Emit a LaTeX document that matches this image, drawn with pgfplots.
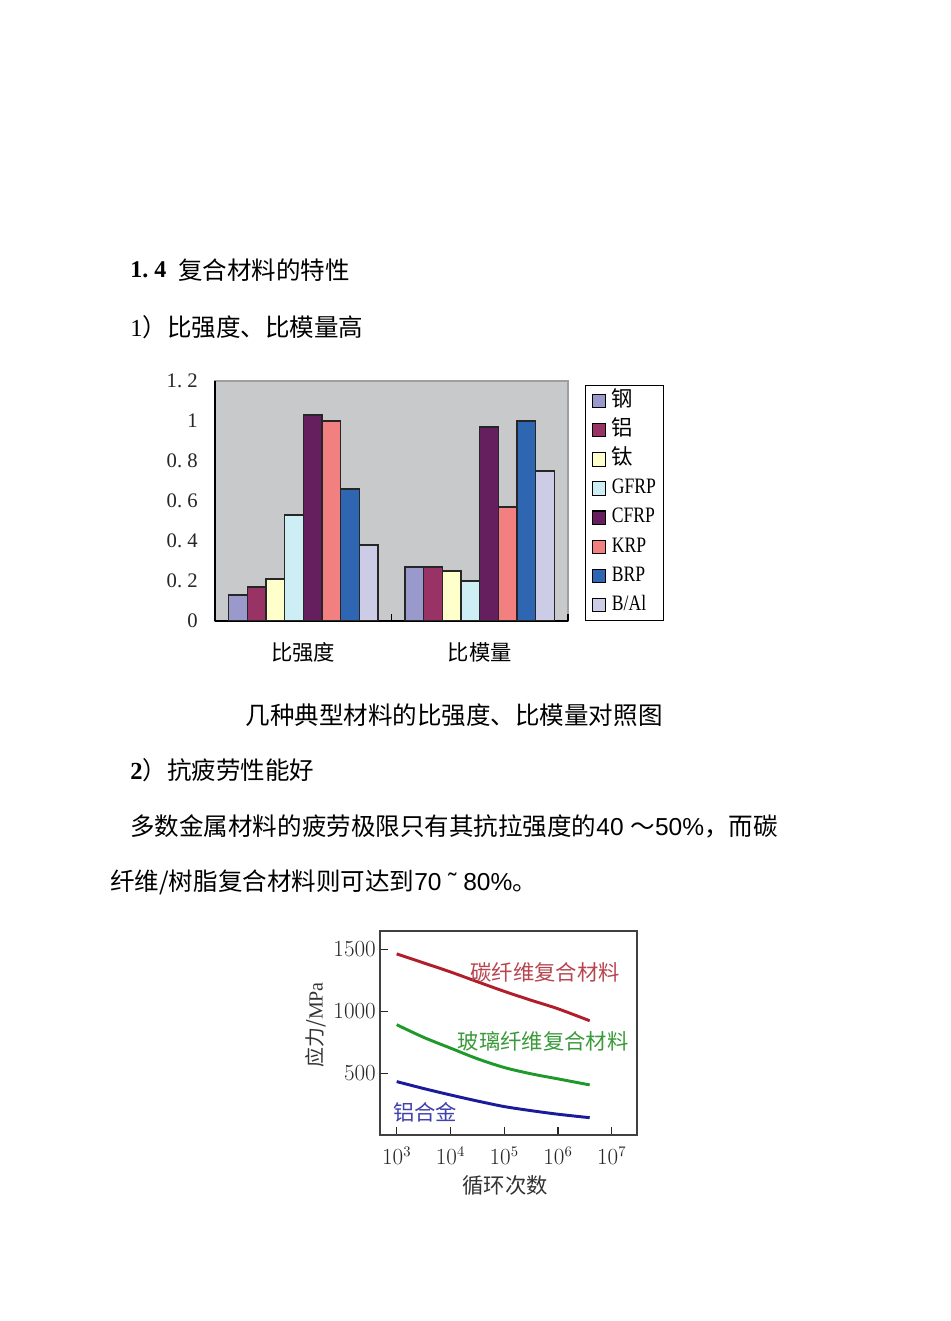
\documentclass[border=0pt]{standalone}
\usepackage{fontspec}
\setmainfont{Liberation Serif}
\newfontfamily\cjk{Noto Sans CJK SC}
\newfontfamily\latsans{Liberation Sans}
\usepackage{graphicx}
\usepackage{pgfplots}
\pgfplotsset{compat=1.18}
\definecolor{bgg}{HTML}{C8C9CB}
\definecolor{cA}{HTML}{9999CC}
\definecolor{cB}{HTML}{993366}
\definecolor{cC}{HTML}{FFFFCC}
\definecolor{cD}{HTML}{CCEEF4}
\definecolor{cE}{HTML}{661F5E}
\definecolor{cF}{HTML}{F28080}
\definecolor{cG}{HTML}{2E66B2}
\definecolor{cH}{HTML}{CCCCE6}
\definecolor{lred}{HTML}{B01E2A}
\definecolor{lgreen}{HTML}{1F9A2A}
\definecolor{lblue}{HTML}{1A1A9A}
\definecolor{tred}{HTML}{B8454F}
\definecolor{tgreen}{HTML}{3A9A3A}
\definecolor{tblue}{HTML}{4040B0}
\newcommand\bodyf{\cjk\fontsize{18.4}{22}\selectfont}
\newcommand\cond[1]{\scalebox{0.8}[1]{\fontsize{16.5}{16.5}\selectfont #1}}
\newcommand\lc[1]{{\cjk\fontsize{16}{16}\selectfont #1}}
\begin{document}
\begin{tikzpicture}[x=0.75pt,y=0.75pt]
\fill[white] (0,0) rectangle (950,1321);
% body text
\node[anchor=west,inner sep=0] at (130,1051) {\fontsize{18}{22}\selectfont\bfseries 1.\ 4};
\node[anchor=west,inner sep=0] at (178,1051) {\bodyf 复合材料的特性};
\node[anchor=west,inner sep=0] at (130,994) {\bodyf {\rmfamily 1}）比强度、比模量高};
\node[anchor=center,inner sep=0] at (454,606) {\bodyf 几种典型材料的比强度、比模量对照图};
\node[anchor=west,inner sep=0] at (130,551) {\bodyf {\rmfamily\bfseries 2}）抗疲劳性能好};
\node[anchor=west,inner sep=0] at (130,495) {\bodyf 多数金属材料的疲劳极限只有其抗拉强度的{\latsans 40 }～{\latsans 50\%}，而碳};
\node[anchor=west,inner sep=0] at (110,439) {\bodyf 纤维/树脂复合材料则可达到{\latsans 70 ˜ 80\%}。};

% bar chart
\begin{axis}[at={(161.25pt,525pt)}, anchor=south west, scale only axis,
  width=264.75pt, height=180pt,
  ybar=0pt, bar width=14pt,
  xmin=-0.5, xmax=1.5, ymin=0, ymax=1.2,
  axis x line*=bottom, axis y line*=left,
  axis line style={line width=1.2pt, black},
  axis background/.style={fill=bgg, draw=gray!75, line width=0.8pt},
  tick align=inside,
  xtick={0.5,1.5}, xticklabels={},
  xtick style={draw=black, line width=1.2pt}, major tick length=5pt,
  extra x ticks={0,1}, extra x tick labels={比强度,比模量},
  extra x tick style={major tick length=0pt, xticklabel style={font=\cjk\fontsize{16}{16}\selectfont, anchor=center, yshift=-23.25pt}},
  ytick={0,0.2,0.4,0.6,0.8,1,1.2},
  yticklabels={0,0.\ 2,0.\ 4,0.\ 6,0.\ 8,1,1.\ 2},
  ytick style={draw=none},
  yticklabel style={font=\fontsize{15.5}{15.5}\selectfont, anchor=east, inner sep=0pt, xshift=-12.75pt, text=black!85},
  legend image code/.code={\draw[#1,draw=black,line width=0.8pt] (0pt,-5pt) rectangle (10pt,5pt);},
  legend cell align=left,
  legend style={at={(1,1)}, anchor=north west, xshift=12.75pt, yshift=-3pt,
    draw=black, line width=0.8pt, fill=white, inner xsep=4.5pt, inner ysep=3.2pt,
    row sep=4.85pt, nodes={inner sep=1.5pt, text height=11pt, text depth=3pt},
    /tikz/every odd column/.append style={column sep=3pt}},
]
\addplot[fill=cA, draw=black!85, line width=0.9pt] coordinates {(0,0.13) (1,0.27)};
\addplot[fill=cB, draw=black!85, line width=0.9pt] coordinates {(0,0.17) (1,0.27)};
\addplot[fill=cC, draw=black!85, line width=0.9pt] coordinates {(0,0.21) (1,0.25)};
\addplot[fill=cD, draw=black!85, line width=0.9pt] coordinates {(0,0.53) (1,0.20)};
\addplot[fill=cE, draw=black!85, line width=0.9pt] coordinates {(0,1.03) (1,0.97)};
\addplot[fill=cF, draw=black!85, line width=0.9pt] coordinates {(0,1.00) (1,0.57)};
\addplot[fill=cG, draw=black!85, line width=0.9pt] coordinates {(0,0.66) (1,1.00)};
\addplot[fill=cH, draw=black!85, line width=0.9pt] coordinates {(0,0.38) (1,0.75)};
\legend{\lc{钢},\lc{铝},\lc{钛},\cond{GFRP},\cond{CFRP},\cond{KRP},\cond{BRP},\cond{B/Al}}
\end{axis}

% line chart
\begin{axis}[at={(285pt,139.5pt)}, anchor=south west, scale only axis,
  width=192.75pt, height=153pt,
  xmode=log, xmin=489, xmax=2.96e7, ymin=0, ymax=1650,
  xtick={1e3,1e4,1e5,1e6,1e7}, ytick={500,1000,1500},
  xminorticks=false, yminorticks=false,
  /pgf/number format/set thousands separator={},
  tick align=inside, major tick length=6pt,
  xtick pos=left, ytick pos=left,
  tick style={line width=1pt, black!85},
  axis line style={line width=1pt, black!75},
  xticklabel style={font=\fontsize{16}{16}\selectfont, anchor=base, yshift=-22.5pt, text=black!85},
  yticklabel style={font=\fontsize{16.5}{16.5}\selectfont, anchor=east, inner sep=0pt, xshift=-3pt, text=black!85},
]
\addplot[lred, line width=2.2pt, smooth] coordinates {(1e3,1465) (3.16e3,1392) (1e4,1319) (3.16e4,1240) (1e5,1162) (3.16e5,1090) (1e6,1021) (3.9e6,924)};
\addplot[lgreen, line width=2.2pt, smooth] coordinates {(1e3,892) (3.16e3,790) (1e4,703) (3.16e4,617) (1e5,546) (3.16e5,495) (1e6,454) (3.9e6,405)};
\addplot[lblue, line width=2.2pt, smooth] coordinates {(1e3,432) (3.16e3,376) (1e4,324) (3.16e4,275) (1e5,230) (3.16e5,197) (1e6,168) (3.9e6,140)};
\end{axis}
\node[text=tred, inner sep=0] at (545,349) {\lc{碳纤维复合材料}};
\node[text=tgreen, inner sep=0] at (543,280) {\lc{玻璃纤维复合材料}};
\node[text=tblue, inner sep=0] at (425,209) {\lc{铝合金}};
\node[rotate=90, inner sep=0, text=black!80] at (316,296) {\cjk\fontsize{15}{15}\selectfont 应力/\textrm{MPa}};
\node[inner sep=0, text=black!80] at (505,136) {\lc{循环次数}};
\end{tikzpicture}
\end{document}
